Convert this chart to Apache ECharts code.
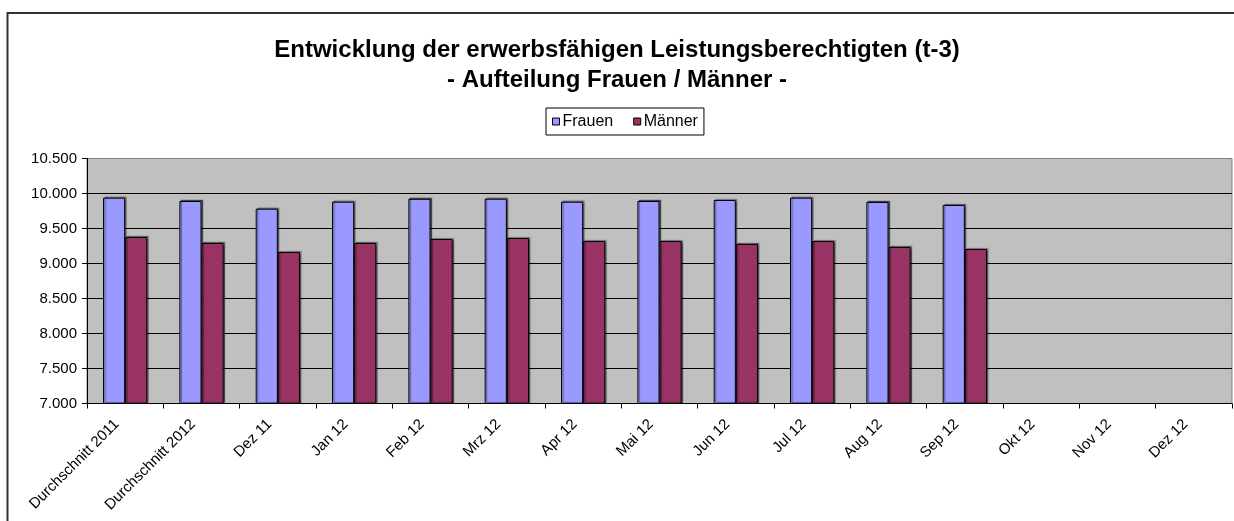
<!DOCTYPE html>
<html>
<head>
<meta charset="utf-8">
<script src="https://cdn.jsdelivr.net/npm/echarts@6/dist/echarts.min.js"></script>
<style>
  html, body { margin: 0; padding: 0; background: #fff; }
  #chart { width: 1234px; height: 521px; }
</style>
</head>
<body>
<div id="chart"></div>
<script>
// Kategorien (x-Achse)
const categories = ['Durchschnitt 2011', 'Durchschnitt 2012', 'Dez 11', 'Jan 12', 'Feb 12', 'Mrz 12',
  'Apr 12', 'Mai 12', 'Jun 12', 'Jul 12', 'Aug 12', 'Sep 12', 'Okt 12', 'Nov 12', 'Dez 12'];

// Werte
const frauen = [9940, 9893, 9783, 9883, 9925, 9926, 9883, 9893, 9907, 9940, 9879, 9836, null, null, null];
const maenner = [9379, 9293, 9164, 9293, 9350, 9364, 9321, 9321, 9279, 9321, 9236, 9207, null, null, null];

const yMin = 7000;
const yMax = 10500;
const yStep = 500;

const font = 'Liberation Sans, Arial, sans-serif';

const chart = echarts.init(document.getElementById('chart'));

function fmt(v) {
  return String(v).replace(/\B(?=(\d{3})+(?!\d))/g, '.');
}

const barStyle = function (color) {
  return {
    color: color,
    borderColor: '#000',
    borderWidth: 1,
    shadowColor: 'rgba(0,0,0,0.45)',
    shadowBlur: 1,
    shadowOffsetX: 1.5,
    shadowOffsetY: -1
  };
};

const option = {
  animation: false,
  backgroundColor: '#fff',
  textStyle: { fontFamily: font },
  title: {
    text: 'Entwicklung der erwerbsfähigen Leistungsberechtigten (t-3)\n- Aufteilung Frauen / Männer -',
    left: 'center',
    top: 30,
    textStyle: {
      fontFamily: font,
      fontSize: 24,
      fontWeight: 'bold',
      color: '#000',
      lineHeight: 30
    }
  },
  legend: {
    data: ['Frauen', 'Männer'],
    left: 546,
    top: 108,
    padding: [5, 6, 5, 6],
    itemWidth: 7,
    itemHeight: 7,
    itemGap: 20,
    icon: 'rect',
    borderColor: '#000',
    borderWidth: 1,
    itemStyle: { borderColor: '#000', borderWidth: 1 },
    textStyle: { fontFamily: font, fontSize: 16, color: '#000', lineHeight: 17, padding: [0, 0, 0, -2] }
  },
  graphic: [{
    type: 'rect',
    shape: { x: 7.5, y: 13, width: 1300, height: 600 },
    style: { fill: 'none', stroke: '#333', lineWidth: 2 },
    silent: true
  }],
  grid: {
    left: 87,
    right: 2,
    top: 158.5,
    bottom: 117.5,
    show: true,
    backgroundColor: '#C0C0C0',
    borderColor: '#808080',
    borderWidth: 1
  },
  xAxis: {
    type: 'category',
    data: categories,
    axisLine: { lineStyle: { color: '#000', width: 1 } },
    axisTick: { show: true, alignWithLabel: false, length: 5, lineStyle: { color: '#000' } },
    axisLabel: {
      interval: 0,
      rotate: 45,
      margin: 10,
      padding: [0, 12, 0, 0],
      fontFamily: font,
      fontSize: 15,
      color: '#000'
    }
  },
  yAxis: {
    type: 'value',
    min: yMin,
    max: yMax,
    interval: yStep,
    axisLine: { show: true, lineStyle: { color: '#000', width: 1 } },
    axisTick: { show: true, length: 5, lineStyle: { color: '#000' } },
    axisLabel: {
      margin: 10,
      fontFamily: font,
      fontSize: 15,
      color: '#000',
      formatter: fmt
    },
    splitLine: { show: true, showMaxLine: false, lineStyle: { color: '#000', width: 1 } }
  },
  series: [
    {
      name: 'Frauen',
      type: 'bar',
      data: frauen,
      barGap: '0%',
      barCategoryGap: '42%',
      itemStyle: barStyle('#9999FF')
    },
    {
      name: 'Männer',
      type: 'bar',
      data: maenner,
      itemStyle: barStyle('#993366')
    }
  ]
};

chart.setOption(option);
</script>
</body>
</html>
